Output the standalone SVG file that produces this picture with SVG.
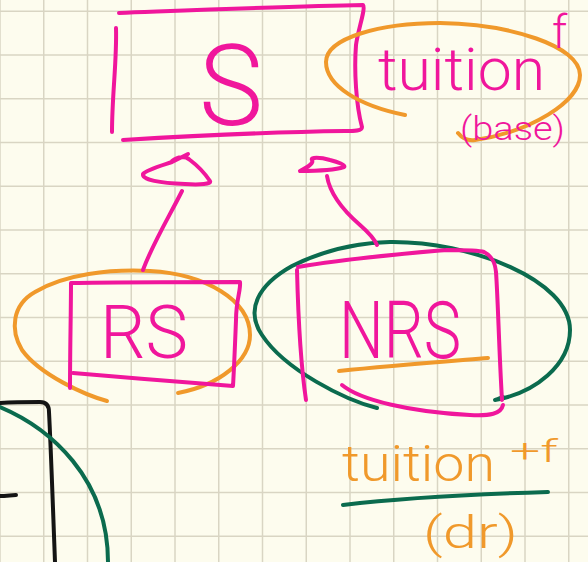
<svg xmlns="http://www.w3.org/2000/svg" width="588" height="562" viewBox="0 0 588 562">
  <style>
    .grid { stroke: #d9d5c3; stroke-width: 1.5; fill: none; }
    .pink { stroke: #f0169c; stroke-width: 4; fill: none; stroke-linecap: round; stroke-linejoin: round; }
    .orange { stroke: #f0992b; stroke-width: 4; fill: none; stroke-linecap: round; stroke-linejoin: round; }
    .green { stroke: #0b6b4e; stroke-width: 4; fill: none; stroke-linecap: round; stroke-linejoin: round; }
    .black { stroke: #141414; stroke-width: 4; fill: none; stroke-linecap: round; stroke-linejoin: round; }
    .hand { font-family: "Roboto", "Liberation Sans", sans-serif; font-weight: 300; }
    .tpink { fill: #f0169c; }
    .torange { fill: #f0992b; }
  </style>

  <!-- paper -->
  <rect x="0" y="0" width="588" height="562" fill="#fdfcee"/>
  <path class="grid" d="M0,0V562 M43.75,0V562 M87.5,0V562 M131.25,0V562 M175,0V562 M218.75,0V562 M262.5,0V562 M306.25,0V562 M350,0V562 M393.75,0V562 M437.5,0V562 M481.25,0V562 M525,0V562 M568.75,0V562
    M0,11.25H588 M0,55H588 M0,98.75H588 M0,142.5H588 M0,186.25H588 M0,230H588 M0,273.75H588 M0,317.5H588 M0,361.25H588 M0,405H588 M0,448.75H588 M0,492.5H588 M0,536.25H588"/>

  <!-- S box -->
  <g id="node-s">
    <path class="pink" d="M119,13 C200,10 300,6 363,5 C366,8 358,30 356,45 C354,70 356,105 362,127 C362,131 355,131 345,131 C270,132 190,136 123,140"/>
    <path class="pink" d="M116,28 C117,60 112,95 112,132"/>
    <text class="hand tpink" x="199" y="125" font-size="114" textLength="64" lengthAdjust="spacingAndGlyphs">S</text>
  </g>

  <!-- tuition (base) -->
  <g id="node-tuition-base">
    <path class="orange" d="M405,115 C360,106 326,86 326,62 C326,38 380,23 440,23 C510,24 580,46 580,75 C580,102 530,132 475,140 C468,141 462,138 458,133"/>
    <text class="hand tpink" x="378" y="90" font-size="60" textLength="167" lengthAdjust="spacingAndGlyphs">tuition</text>
    <text class="hand tpink" x="552" y="48" font-size="46">f</text>
    <text class="hand tpink" x="460" y="140" font-size="34" textLength="105" lengthAdjust="spacingAndGlyphs">(base)</text>
  </g>

  <!-- RS box -->
  <g id="node-rs">
    <path class="orange" d="M107,401 C85,395 40,375 22,350 C10,330 12,305 35,292 C65,274 110,269 150,271 C205,274 250,300 250,335 C250,360 220,385 178,393"/>
    <path class="pink" d="M72,283 C120,282 190,282 240,282 C241,290 236,300 236,320 C235,345 234,370 233,386 C215,385 120,377 73,373"/>
    <path class="pink" d="M71,283 C71,310 70,350 70,388"/>
    <text class="hand tpink" x="100" y="358" font-size="74" textLength="88" lengthAdjust="spacingAndGlyphs">RS</text>
  </g>

  <!-- NRS box -->
  <g id="node-nrs">
    <path class="green" d="M377,408 C345,400 285,370 262,335 C245,310 258,285 292,266 C320,252 350,243 390,242 C470,241 570,280 570,330 C570,365 535,393 495,400 C499,399 502,397 503,397"/>
    <path class="pink" d="M298,267 C350,258 400,254 447,250 C465,250 478,250 484,252 C492,256 495,262 496,272 C498,300 499,350 502,400"/>
    <path class="pink" d="M297,270 C298,310 300,360 306,400"/>
    <path class="pink" d="M342,385 C360,400 410,412 470,415 C490,416 501,414 503,405"/>
    <path class="orange" d="M339,371 C390,366 440,362 488,358"/>
    <text class="hand tpink" x="339" y="358" font-size="80" textLength="122" lengthAdjust="spacingAndGlyphs">NRS</text>
  </g>

  <!-- tuition +f (dr) -->
  <g id="node-tuition-dr">
    <text class="hand torange" x="342" y="481" font-size="50" textLength="153" lengthAdjust="spacingAndGlyphs">tuition</text>
    <text class="hand torange" x="510" y="462" font-size="32" textLength="48" lengthAdjust="spacingAndGlyphs">+f</text>
    <path class="green" stroke-width="5" d="M343,505 C410,497 480,494 548,492"/>
    <text class="hand torange" x="423" y="548" font-size="44" textLength="95" lengthAdjust="spacingAndGlyphs">(dr)</text>
  </g>

  <!-- partial box and arc at lower left -->
  <g id="node-lower-left">
    <path class="black" d="M0,403 C15,402 30,402 40,402 C47,402 49,406 49,412 C51,450 53,510 55,562"/>
    <path class="black" d="M0,496 C6,496 12,495 16,495"/>
    <path class="green" d="M0,407 C50,428 108,478 108,562"/>
  </g>

  <!-- connectors -->
  <g id="connectors">
    <path class="pink" d="M182,191 C170,215 152,245 143,270"/>
    <path class="pink" d="M188,154 L172,162 C160,166 146,170 143,174 C142,180 160,183 185,184 C200,185 212,184 210,181 C206,175 198,166 190,160 C185,156 178,156 172,161"/>
    <path class="pink" d="M327,176 C330,195 345,212 360,225 C368,232 374,238 377,245"/>
    <path class="pink" d="M300,171 C308,167 314,163 312,160 C310,157 320,157 330,160 C338,162 346,165 344,167 C335,170 312,171 300,171"/>
  </g>
</svg>
